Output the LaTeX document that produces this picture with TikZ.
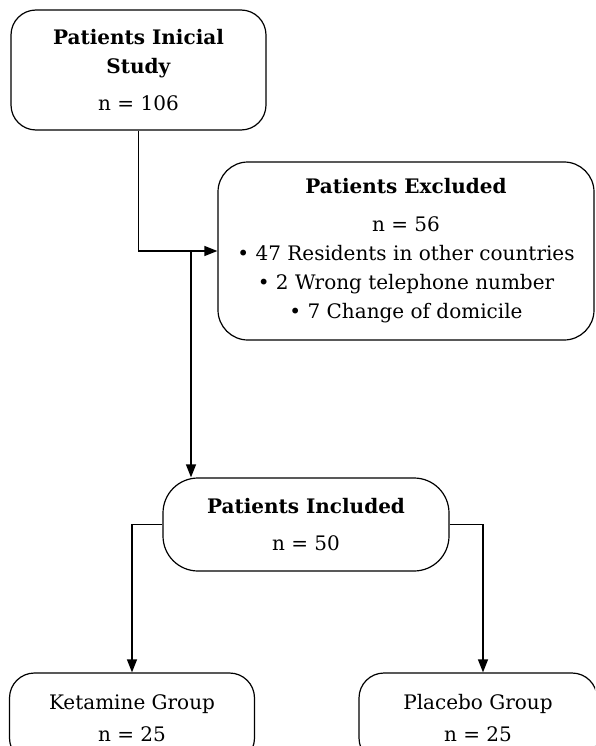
\documentclass[tikz,border=0pt]{standalone}
\usepackage{fontspec}
\setmainfont{DejaVu Serif}
\usetikzlibrary{arrows.meta}

\begin{document}
\begin{tikzpicture}[x=1pt,y=-1pt,line width=1.2pt,
    >={Triangle[length=13pt,width=10pt]},
    box/.style={draw,rounded corners=25pt,align=center,inner sep=0pt,
      font=\fontsize{20}{29}\selectfont}]

        \useasboundingbox (0,0) rectangle (595,746);
        \clip (0,0) rectangle (595,746);

        \node[box,minimum width=255pt,minimum height=120pt]  (Init) at (138.5,70)
             {\textbf{Patients Inicial}\\\textbf{Study}\\[8pt]n = 106};
        \node[box,minimum width=376pt,minimum height=178pt,rounded corners=30pt]  (Excl) at (406,251)
             {\textbf{Patients Excluded}\\[9pt]n = 56\\
              • 47 Residents in other countries\\
              • 2 Wrong telephone number\\
              • 7 Change of domicile};
        \node[box,minimum width=286pt,minimum height=93pt,rounded corners=35pt]  (Incl) at (306,524.5)
             {\textbf{Patients Included}\\[8pt]n = 50};
        \node[box,minimum width=245pt,minimum height=90pt]  (Keta) at (132,718)
             {Ketamine Group\\[3pt]n = 25};
        \node[box,minimum width=238pt,minimum height=90pt]  (Plac) at (478,718)
             {Placebo Group\\[3pt]n = 25};

        \coordinate (Split) at (191,251);

        \draw[->] (Init) |- (Excl);
        \draw[->] (Split) -- (Split |- Incl.north);
        \draw[->] (Incl) -| (Keta);
        \draw[->] (Incl) -| ([xshift=5pt]Plac.north);
\end{tikzpicture}
\end{document}
